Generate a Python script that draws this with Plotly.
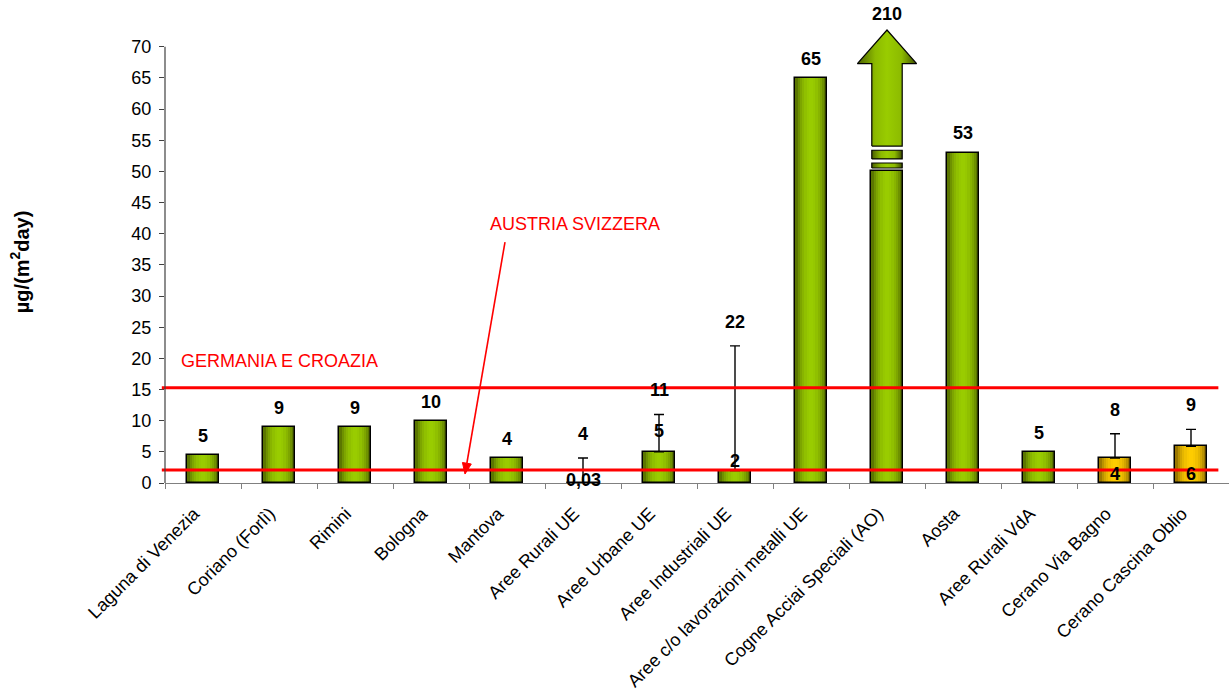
import math
import plotly.graph_objects as go

# ---- data -------------------------------------------------------------
categories = [
    "Laguna di Venezia", "Coriano (Forlì)", "Rimini", "Bologna", "Mantova",
    "Aree Rurali UE", "Aree Urbane UE", "Aree Industriali UE",
    "Aree c/o lavorazioni metalli UE", "Cogne Acciai Speciali (AO)", "Aosta",
    "Aree Rurali VdA", "Cerano Via Bagno", "Cerano Cascina Oblio",
]
deposition = [4.5, 9, 9, 10, 4, 0.03, 5, 2, 65, 210, 53, 5, 4, 5.9]
range_max = [None, None, None, None, None, 4, 11, 22, None, None, None, None, 7.9, 8.6]
site_group = ["ref"] * 12 + ["cerano"] * 2

limit_germania_croazia = 15.3
limit_austria_svizzera = 2.1

YMAX = 70          # top of the printed scale
BREAK_AT = 50      # off-scale bars are cut here and continued as an arrow

# ---- style ------------------------------------------------------------
FONT = "Arial, Liberation Sans, sans-serif"
LABEL_SIZE = 18
BAR_W = 0.41
N_SLICES = 14
palette = {
    "ref": ((0x4A, 0x5E, 0x00), (0x99, 0xCC, 0x00)),
    "cerano": ((0x80, 0x60, 0x00), (0xFF, 0xCC, 0x00)),
}

# plot-area geometry (pixels) used to place the pointer arrow
W, H = 1229, 691
M_L, M_R, M_T, M_B = 165, 0, 25, 206
PLOT_W, PLOT_H = W - M_L - M_R, H - M_T - M_B


def to_paper(px, py):
    return (px - M_L) / PLOT_W, (H - M_B - py) / PLOT_H


def shade(group, t):
    """Cylinder-like shading across a bar, t in [0, 1]."""
    edge, mid = palette[group]
    k = math.sin(math.pi * min(max(t, 0.0), 1.0)) ** 0.7
    rgb = [round(e + (m - e) * k) for e, m in zip(edge, mid)]
    return "rgb(%d,%d,%d)" % tuple(rgb)


def fmt(v):
    if v < 1:
        return ("%.2f" % v).replace(".", ",")
    return str(int(math.floor(v + 0.5)))


drawn = [BREAK_AT if v > YMAX else v for v in deposition]

fig = go.Figure()

# gradient bars built from narrow side-by-side slices
for i in range(N_SLICES):
    t = (i + 0.5) / N_SLICES
    fig.add_trace(go.Bar(
        x=categories, y=drawn,
        width=BAR_W / N_SLICES + 0.002,
        offset=-BAR_W / 2 + i * BAR_W / N_SLICES,
        marker=dict(color=[shade(g, t) for g in site_group], line=dict(width=0)),
        showlegend=False, hoverinfo="skip",
    ))

# bar outlines
fig.add_trace(go.Bar(
    x=categories, y=drawn, width=BAR_W, offset=-BAR_W / 2,
    marker=dict(color="rgba(0,0,0,0)", line=dict(color="black", width=1.5)),
    showlegend=False, hoverinfo="skip",
))

# max-value whiskers
err_x, err_y, err_plus = [], [], []
for c, v, m in zip(categories, deposition, range_max):
    if m is not None:
        err_x.append(c)
        err_y.append(v)
        err_plus.append(m - v)
fig.add_trace(go.Scatter(
    x=err_x, y=err_y, mode="markers", marker=dict(opacity=0, size=1),
    error_y=dict(type="data", symmetric=False, array=err_plus,
                 arrayminus=[0] * len(err_plus), color="black",
                 thickness=1.4, width=5),
    showlegend=False, hoverinfo="skip",
))

# broken-scale arrow for off-scale values (drawn on a twin numeric x axis)
grad = dict(type="horizontal",
            colorscale=[[0, "rgb(74,94,0)"], [0.3, "rgb(140,186,0)"],
                        [0.5, "rgb(153,204,0)"], [0.75, "rgb(140,186,0)"],
                        [1, "rgb(60,76,0)"]])
for idx, v in enumerate(deposition):
    if v <= YMAX:
        continue
    hs, hh = 0.2, 0.39
    pieces = [
        ([idx - hs, idx + hs, idx + hs, idx - hs, idx - hs],
         [50.55, 50.55, 51.35, 51.35, 50.55]),
        ([idx - hs, idx + hs, idx + hs, idx - hs, idx - hs],
         [52.0, 52.0, 53.4, 53.4, 52.0]),
        ([idx - hs, idx + hs, idx + hs, idx + hh, idx, idx - hh, idx - hs, idx - hs],
         [54.07, 54.07, 67.3, 67.3, 72.7, 67.3, 67.3, 54.07]),
    ]
    for px, py in pieces:
        fig.add_trace(go.Scatter(
            x=px, y=py, xaxis="x2", mode="lines", fill="toself",
            fillgradient=grad, line=dict(color="black", width=1.2),
            showlegend=False, hoverinfo="skip",
        ))
    fig.add_annotation(x=idx, y=72.7, xref="x2", yref="y", text="<b>%s</b>" % fmt(v),
                       showarrow=False, yshift=16,
                       font=dict(family=FONT, size=LABEL_SIZE, color="black"))

# value labels
label_shift = [19, 19, 19, 19, 19, 3, 21, 10, 19, None, 20, 19, -16, -28]
for c, v, d, s in zip(categories, deposition, drawn, label_shift):
    if s is None:
        continue
    fig.add_annotation(x=c, y=d, text="<b>%s</b>" % fmt(v), showarrow=False,
                       yshift=s, font=dict(family=FONT, size=LABEL_SIZE, color="black"))
for c, m in zip(categories, range_max):
    if m is not None:
        fig.add_annotation(x=c, y=m, text="<b>%s</b>" % fmt(m), showarrow=False,
                           yshift=24, font=dict(family=FONT, size=LABEL_SIZE, color="black"))

# limit lines
for lim in (limit_germania_croazia, limit_austria_svizzera):
    fig.add_shape(type="line", xref="paper", yref="y", x0=-0.003, x1=0.99,
                  y0=lim, y1=lim, line=dict(color="#FF0000", width=3), layer="above")

fig.add_annotation(xref="paper", yref="y", x=0.0132, y=limit_germania_croazia + 4.35,
                   xanchor="left", text="GERMANIA E CROAZIA", showarrow=False,
                   font=dict(family=FONT, size=18, color="#FF0000"))
fig.add_annotation(xref="paper", yref="y", x=0.3036, y=41.6,
                   xanchor="left", text="AUSTRIA SVIZZERA", showarrow=False,
                   font=dict(family=FONT, size=18, color="#FF0000"))

# pointer from the AUSTRIA SVIZZERA label down to its limit line
tail, tip = (505.0, 243.0), (465.0, 476.0)
dx, dy = tip[0] - tail[0], tip[1] - tail[1]
ln = math.hypot(dx, dy)
ux, uy = dx / ln, dy / ln
head_len, head_half = 11.0, 4.5
base = (tip[0] - head_len * ux, tip[1] - head_len * uy)
b1 = (base[0] + head_half * uy, base[1] - head_half * ux)
b2 = (base[0] - head_half * uy, base[1] + head_half * ux)
t0, t1 = to_paper(*tail), to_paper(*base)
fig.add_shape(type="line", xref="paper", yref="paper", x0=t0[0], y0=t0[1],
              x1=t1[0], y1=t1[1], line=dict(color="#FF0000", width=1.6), layer="above")
pts = [to_paper(*p) for p in (tip, b1, b2)]
fig.add_shape(type="path", xref="paper", yref="paper",
              path="M %f,%f L %f,%f L %f,%f Z" % (pts[0] + pts[1] + pts[2]),
              fillcolor="#FF0000", line=dict(color="#FF0000", width=1), layer="above")

# y axis line spans only the printed scale
fig.add_shape(type="line", xref="paper", yref="y", x0=0, x1=0, y0=0, y1=YMAX,
              line=dict(color="#404040", width=1.2), layer="above")

fig.add_annotation(xref="paper", yref="paper", x=-0.136, y=0.4826, textangle=-90,
                   xanchor="center", yanchor="middle",
                   text="<b>µg/(m<sup>2</sup>day)</b>", showarrow=False,
                   font=dict(family=FONT, size=20, color="black"))

fig.update_layout(
    width=W, height=H,
    margin=dict(l=M_L, r=M_R, t=M_T, b=M_B),
    paper_bgcolor="white", plot_bgcolor="white",
    barmode="overlay", bargap=0,
    showlegend=False,
    xaxis=dict(type="category", categoryorder="array", categoryarray=categories,
               range=[-0.5, len(categories) - 0.5],
               showline=True, linecolor="#808080", linewidth=1.2,
               ticks="outside", tickson="boundaries", ticklen=5, tickcolor="#808080",
               tickangle=-45, showgrid=False, zeroline=False,
               ticklabelstandoff=12, ticklabelshift=-9,
               tickfont=dict(family=FONT, size=18, color="black")),
    xaxis2=dict(overlaying="x", range=[-0.5, len(categories) - 0.5],
                visible=False),
    yaxis=dict(range=[0, 73.5], tickvals=list(range(0, YMAX + 1, 5)),
               showline=False, ticks="outside", ticklen=5, tickcolor="#404040",
               showgrid=False, zeroline=False, ticklabelstandoff=4,
               tickfont=dict(family=FONT, size=18, color="black")),
)

fig.write_html("out.html")
